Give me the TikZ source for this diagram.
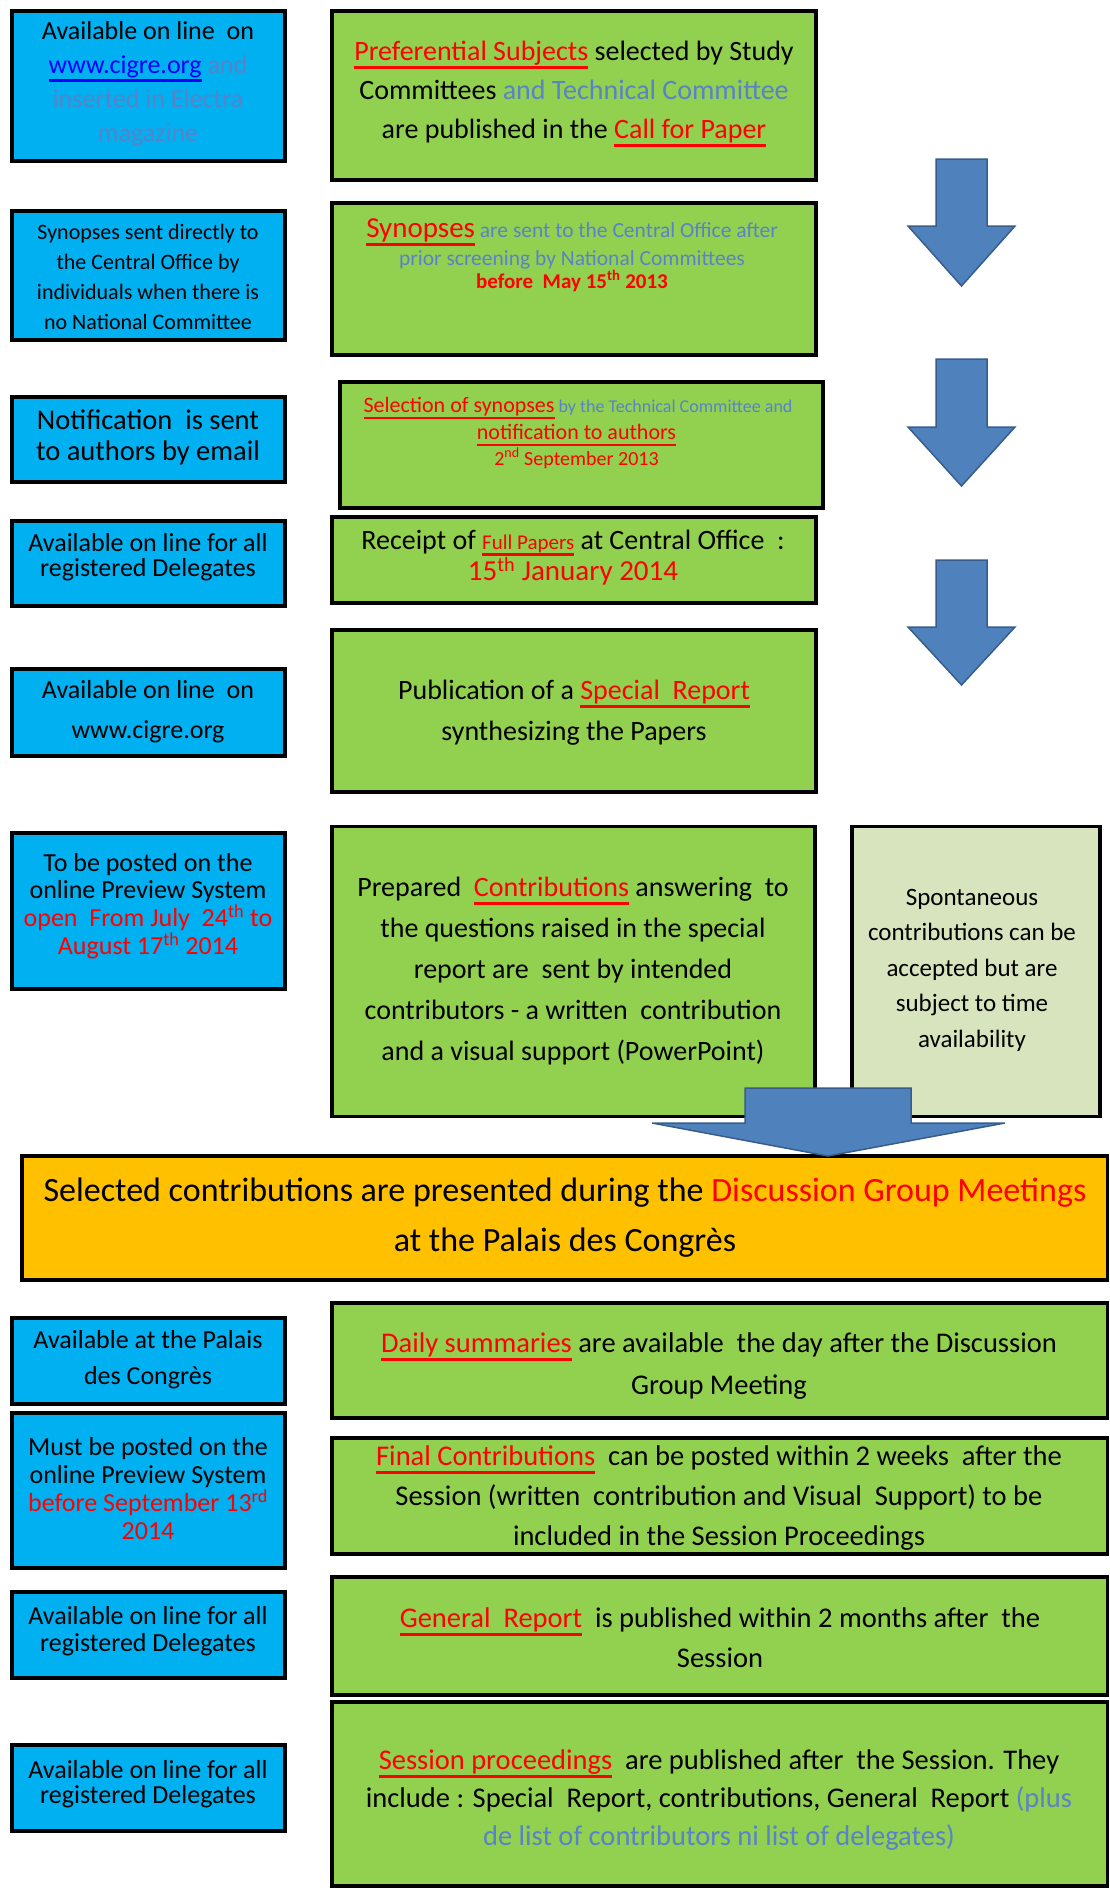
\documentclass[tikz,border=0pt]{standalone}
\usepackage{fontspec}
\setmainfont{Carlito}
\definecolor{cblue}{HTML}{00B0F0}
\definecolor{cgreen}{HTML}{92D050}
\definecolor{corange}{HTML}{FFC000}
\definecolor{clight}{HTML}{D7E4BD}
\definecolor{arrowfill}{HTML}{4F81BD}
\definecolor{arrowline}{HTML}{385D8A}
\definecolor{slate}{HTML}{5A82C8}
\definecolor{linkblue}{HTML}{0000FF}
\newcommand\myfs[2]{\fontsize{#1}{#2}\selectfont}
\newsavebox\myulbox
\newcommand\myul[1]{\sbox\myulbox{#1}\rlap{\rule[-0.3em]{\wd\myulbox}{0.11em}}\usebox\myulbox}
\newcommand\rul[1]{{\color{red}\myul{#1}}}
\begin{document}
\begin{tikzpicture}[x=1pt,y=-1pt,
  box/.style={draw=black, line width=3.5pt, inner sep=0pt, outer sep=0pt},
  bluebox/.style={box, fill=cblue, minimum width=273pt},
  greenbox/.style={box, fill=cgreen},
  txt/.style={align=center, inner sep=0pt, text=black},
  blockarrow/.style={fill=arrowfill, draw=arrowline, line width=1.5pt, line join=miter}
]
\useasboundingbox (0,0) rectangle (1110,1890);

% left (blue) boxes
\node[bluebox, minimum height=150pt] (b1) at (148.5,86) {};
\node[bluebox, minimum height=129pt] (b2) at (148.5,275.5) {};
\node[bluebox, minimum height=85pt] (b3) at (148.5,439.5) {};
\node[bluebox, minimum height=85pt] (b4) at (148.5,563.5) {};
\node[bluebox, minimum height=87pt] (b5) at (148.5,712.5) {};
\node[bluebox, minimum height=156pt] (b6) at (148.5,911) {};
\node[bluebox, minimum height=86pt] (b7) at (148.5,1361) {};
\node[bluebox, minimum height=155pt] (b8) at (148.5,1490.5) {};
\node[bluebox, minimum height=86pt] (b9) at (148.5,1635) {};
\node[bluebox, minimum height=86pt] (b10) at (148.5,1788) {};

% green boxes
\node[greenbox, minimum width=484pt, minimum height=169pt] (g1) at (574,95.5) {};
\node[greenbox, minimum width=484pt, minimum height=152pt] (g2) at (574,279) {};
\node[greenbox, minimum width=483pt, minimum height=126pt] (g3) at (581.5,445) {};
\node[greenbox, minimum width=484pt, minimum height=86pt] (g4) at (574,560) {};
\node[greenbox, minimum width=484pt, minimum height=162pt] (g5) at (574,711) {};
\node[greenbox, minimum width=483pt, minimum height=290pt] (g6) at (573.5,971.5) {};
\node[box, fill=clight, minimum width=248pt, minimum height=290pt] (sp) at (976,971.5) {};
\node[box, fill=corange, minimum width=1085.5pt, minimum height=124pt] (or) at (564.75,1218) {};
\node[greenbox, minimum width=775.5pt, minimum height=115pt] (g7) at (719.75,1360.5) {};
\node[greenbox, minimum width=775.5pt, minimum height=116pt] (g8) at (719.75,1496) {};
\node[greenbox, minimum width=775.5pt, minimum height=118pt] (g9) at (719.75,1636) {};
\node[greenbox, minimum width=775.5pt, minimum height=184pt] (g10) at (719.75,1794) {};

% block arrows
\filldraw[blockarrow] (936,159) -- (987,159) -- (987,226) -- (1015,226) -- (961.5,286) -- (908,226) -- (936,226) -- cycle;
\filldraw[blockarrow] (936,359) -- (987,359) -- (987,427) -- (1015,427) -- (961.5,486) -- (908,427) -- (936,427) -- cycle;
\filldraw[blockarrow] (936,560) -- (987,560) -- (987,627) -- (1015,627) -- (961.5,685) -- (908,627) -- (936,627) -- cycle;
\filldraw[blockarrow] (745,1088) -- (911,1088) -- (911,1123) -- (1005,1123) -- (828,1156) -- (652,1123) -- (745,1123) -- cycle;

% texts
\node[txt, font=\myfs{26}{34}] (tb1) at (148,84) {Available on line~~on\\ {\color{linkblue}\myul{www.cigre.org}} {\color{slate}and}\\ {\color{slate}inserted in Electra}\\ {\color{slate}magazine}};
\node[txt, font=\myfs{28}{39}] (tg1) at (574,94) {\rul{Preferential Subjects} selected by Study\\ Committees {\color{slate}and Technical Committee}\\ are published in the \rul{Call for Paper}};

\node[txt, font=\myfs{22}{30}] (tb2) at (148,277) {Synopses sent directly to\\ the Central Office by\\ individuals when there is\\ no National Committee};
\node[txt, font=\myfs{21.5}{26}] (tg2a) at (572,232) {{\myfs{29}{30}\rul{Synopses}} {\color{slate}are sent to the Central Office after}};
\node[txt, font=\myfs{21.5}{26}, text=slate] (tg2b) at (572,260) {prior screening by National Committees};
\node[txt, font=\bfseries\myfs{21}{26}, text=red] (tg2c) at (572,281) {before~~May 15\textsuperscript{th} 2013};

\node[txt, font=\myfs{28.5}{31}] (tb3) at (148,437.5) {Notification~~is sent\\ to authors by email};
\node[txt, font=\myfs{18}{22}] (tg3a) at (578,408) {{\myfs{22}{22}\rul{Selection of synopses}} {\color{slate}by the Technical Committee and}};
\node[txt, font=\myfs{22}{24}] (tg3b) at (576.5,435) {\rul{notification to authors}};
\node[txt, font=\myfs{20}{24}, text=red] (tg3c) at (576.5,458) {2\textsuperscript{nd} September 2013};

\node[txt, font=\myfs{26}{25}] (tb4) at (148,557.5) {Available on line for all\\ registered Delegates};
\node[txt, font=\myfs{28}{31}] (tg4) at (573,557.5) {Receipt of {\myfs{21}{31}\rul{Full Papers}} at Central Office~~:\\ {\myfs{29}{31}\color{red}15\textsuperscript{th} January 2014}};

\node[txt, font=\myfs{26}{40}] (tb5) at (148,712) {Available on line~~on\\ www.cigre.org};
\node[txt, font=\myfs{28}{41}] (tg5) at (574,712.5) {Publication of a \rul{Special~~Report}\\ synthesizing the Papers};

\node[txt, font=\myfs{26}{27.7}] (tb6) at (148,906) {To be posted on the\\ online Preview System\\ {\color{red}open~~From July~~24\textsuperscript{th} to}\\ {\color{red}August 17\textsuperscript{th} 2014}};
\node[txt, font=\myfs{28}{41}] (tg6) at (573,971) {Prepared~~\rul{Contributions} answering~~to\\ the questions raised in the special\\ report are~~sent by intended\\ contributors - a written~~contribution\\ and a visual support (PowerPoint)};
\node[txt, font=\myfs{25}{35.5}] (tsp) at (972,970) {Spontaneous\\ contributions can be\\ accepted but are\\ subject to time\\ availability};

\node[txt, font=\myfs{34}{50}] (tor) at (565,1218) {Selected contributions are presented during the {\color{red}Discussion Group Meetings}\\ at the Palais des Congrès};

\node[txt, font=\myfs{26}{36}] (tb7) at (148,1360) {Available at the Palais\\ des Congrès};
\node[txt, font=\myfs{28.5}{42}] (tg7) at (719,1366) {\rul{Daily summaries} are available~~the day after the Discussion\\ Group Meeting};

\node[txt, font=\myfs{26}{28}] (tb8) at (148,1489) {Must be posted on the\\ online Preview System\\ {\color{red}before September 13\textsuperscript{rd}}\\ {\color{red}2014}};
\node[txt, font=\myfs{28.5}{40}] (tg8) at (719,1498) {\rul{Final Contributions}~~can be posted within 2 weeks~~after the\\ Session (written~~contribution and Visual~~Support) to be\\ included in the Session Proceedings};

\node[txt, font=\myfs{26}{27}] (tb9) at (148,1631.5) {Available on line for all\\ registered Delegates};
\node[txt, font=\myfs{28.5}{40}] (tg9) at (720,1638) {\rul{General~~Report}~~is published within 2 months after~~the\\ Session};

\node[txt, font=\myfs{26}{25}] (tb10) at (148,1784.5) {Available on line for all\\ registered Delegates};
\node[txt, font=\myfs{28.5}{38}] (tg10) at (719,1800) {\rul{Session proceedings}~~are published after~~the Session. They\\ include : Special~~Report, contributions, General~~Report {\color{slate}(plus}\\ {\color{slate}de list of contributors ni list of delegates)}};
\end{tikzpicture}
\end{document}
